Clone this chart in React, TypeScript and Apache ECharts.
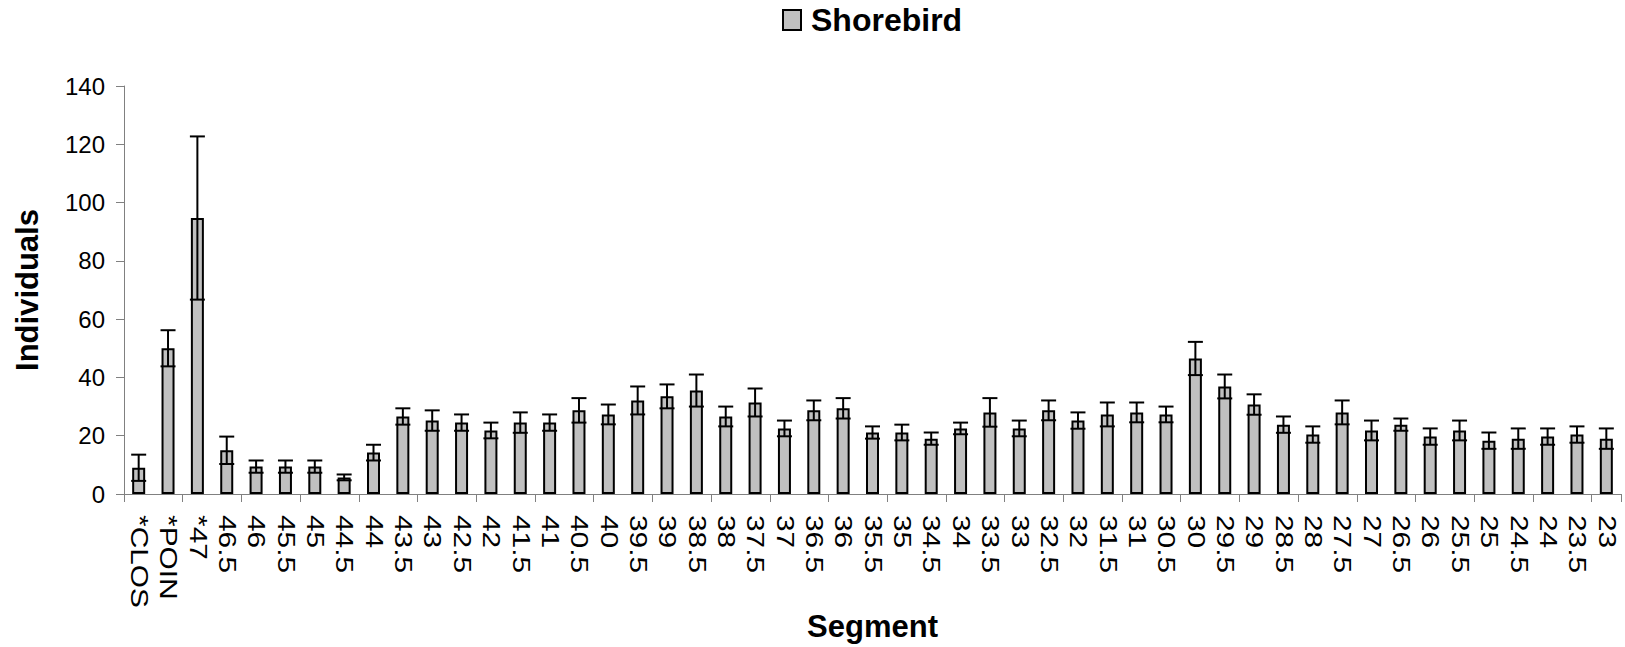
import React, { useEffect, useRef } from "react";
import * as echarts from "echarts";

const categories = [
  "*CLOS", "*POIN", "*47", "46.5", "46", "45.5", "45", "44.5", "44", "43.5", "43",
  "42.5", "42", "41.5", "41", "40.5", "40", "39.5", "39", "38.5", "38", "37.5", "37",
  "36.5", "36", "35.5", "35", "34.5", "34", "33.5", "33", "32.5", "32", "31.5", "31",
  "30.5", "30", "29.5", "29", "28.5", "28", "27.5", "27", "26.5", "26", "25.5", "25",
  "24.5", "24", "23.5", "23",
];

const meanValues = [
  9, 50, 94.7, 15, 9.4, 9.4, 9.4, 5.7, 14.2, 26.6, 25.2,
  24.5, 21.8, 24.5, 24.5, 28.7, 27.3, 32.1, 33.5, 35.5, 26.6, 31.4, 22.5,
  28.7, 29.4, 21.1, 21.1, 19.0, 22.5, 28.0, 22.5, 28.7, 25.2, 27.3, 28.0,
  27.3, 46.5, 36.9, 30.7, 23.8, 20.4, 28.0, 21.8, 23.8, 19.7, 21.8, 18.3,
  19.0, 19.7, 20.4, 19.0,
];

const errorValues = [
  4.5, 6.2, 28, 4.7, 2.1, 2.1, 2.1, 1.0, 2.7, 2.8, 3.5,
  2.8, 2.7, 3.5, 2.8, 4.2, 3.4, 4.8, 4.1, 5.5, 3.4, 4.8, 2.7,
  3.4, 3.5, 2.1, 2.7, 2.1, 2.0, 4.9, 2.7, 3.4, 2.8, 4.1, 3.4,
  2.7, 5.7, 4.1, 3.5, 2.8, 2.8, 4.1, 3.4, 2.1, 2.8, 3.4, 2.8,
  3.5, 2.8, 2.8, 3.5,
];

const yTicks = { min: 0, max: 140, interval: 20 };

const FONT = "'Liberation Sans', Arial, Helvetica, sans-serif";

export default function App() {
  const ref = useRef<HTMLDivElement>(null);

  useEffect(() => {
    if (!ref.current) return;
    const chart = echarts.init(ref.current, null, { renderer: "svg" });
    const errData = meanValues.map((v, i) => [i, v, errorValues[i]]);

    chart.setOption({
      animation: false,
      backgroundColor: "#ffffff",
      textStyle: { fontFamily: FONT },
      legend: {
        data: ["Shorebird"],
        left: 782,
        top: 4,
        padding: 0,
        itemWidth: 18,
        itemHeight: 20,
        icon: "rect",
        textStyle: {
          fontFamily: FONT,
          fontSize: 32,
          fontWeight: "bold",
          color: "#000",
          padding: [0, 0, 0, 5],
        },
      },
      grid: { left: 124, right: 4, top: 86, bottom: 153, containLabel: false },
      xAxis: {
        type: "category",
        data: categories,
        boundaryGap: true,
        name: "Segment",
        nameLocation: "middle",
        nameGap: 117,
        nameTextStyle: { fontFamily: FONT, fontSize: 31, fontWeight: "bold", color: "#000" },
        axisLine: { lineStyle: { color: "#808080", width: 1 } },
        axisTick: { show: true, length: 8, lineStyle: { color: "#808080" } },
        axisLabel: { show: false },
        splitLine: { show: false },
      },
      yAxis: {
        type: "value",
        min: yTicks.min,
        max: yTicks.max,
        interval: yTicks.interval,
        name: "Individuals",
        nameLocation: "middle",
        nameGap: 81,
        nameTextStyle: { fontFamily: FONT, fontSize: 31, fontWeight: "bold", color: "#000" },
        axisLine: { show: true, lineStyle: { color: "#808080", width: 1 } },
        axisTick: { show: true, length: 8, lineStyle: { color: "#808080" } },
        axisLabel: { margin: 19, fontFamily: FONT, fontSize: 24, color: "#000" },
        splitLine: { show: false },
      },
      series: [
        {
          name: "Shorebird",
          type: "bar",
          data: meanValues,
          barWidth: 13,
          itemStyle: { color: "#c0c0c0", borderColor: "#000", borderWidth: 2 },
          z: 2,
        },
        {
          name: "error",
          type: "custom",
          data: errData,
          z: 5,
          encode: { x: 0, y: 1 },
          renderItem: (params: any, api: any) => {
            const i = api.value(0);
            const v = api.value(1);
            const e = api.value(2);
            const top = api.coord([i, v + e]);
            const bot = api.coord([i, v - e]);
            const hw = 7.5;
            const style = { stroke: "#000", lineWidth: 2 };
            return {
              type: "group",
              children: [
                { type: "line", shape: { x1: top[0], y1: top[1], x2: bot[0], y2: bot[1] }, style },
                { type: "line", shape: { x1: top[0] - hw, y1: top[1], x2: top[0] + hw, y2: top[1] }, style },
                { type: "line", shape: { x1: bot[0] - hw, y1: bot[1], x2: bot[0] + hw, y2: bot[1] }, style },
              ],
            };
          },
        },
      ],
    });

    // Category labels (stretched along their length, as in the reference), positioned via the axis scale
    const y0 = chart.convertToPixel({ yAxisIndex: 0 }, 0) as number;
    const labels = categories.map((c) => {
      const x = chart.convertToPixel({ xAxisIndex: 0 }, c) as number;
      return {
        type: "text",
        x,
        y: y0 + 21,
        rotation: -Math.PI / 2,
        scaleX: 1.3,
        silent: true,
        style: {
          text: c,
          fontFamily: FONT,
          fontSize: 23,
          fill: "#000",
          align: "left",
          verticalAlign: "middle",
          textAlign: "left",
          textVerticalAlign: "middle",
        },
      };
    });
    chart.setOption({ graphic: labels });

    return () => chart.dispose();
  }, []);

  return (
    <div
      ref={ref}
      style={{ position: "fixed", left: 0, top: 0, width: 1625, height: 647, background: "#fff" }}
    />
  );
}
